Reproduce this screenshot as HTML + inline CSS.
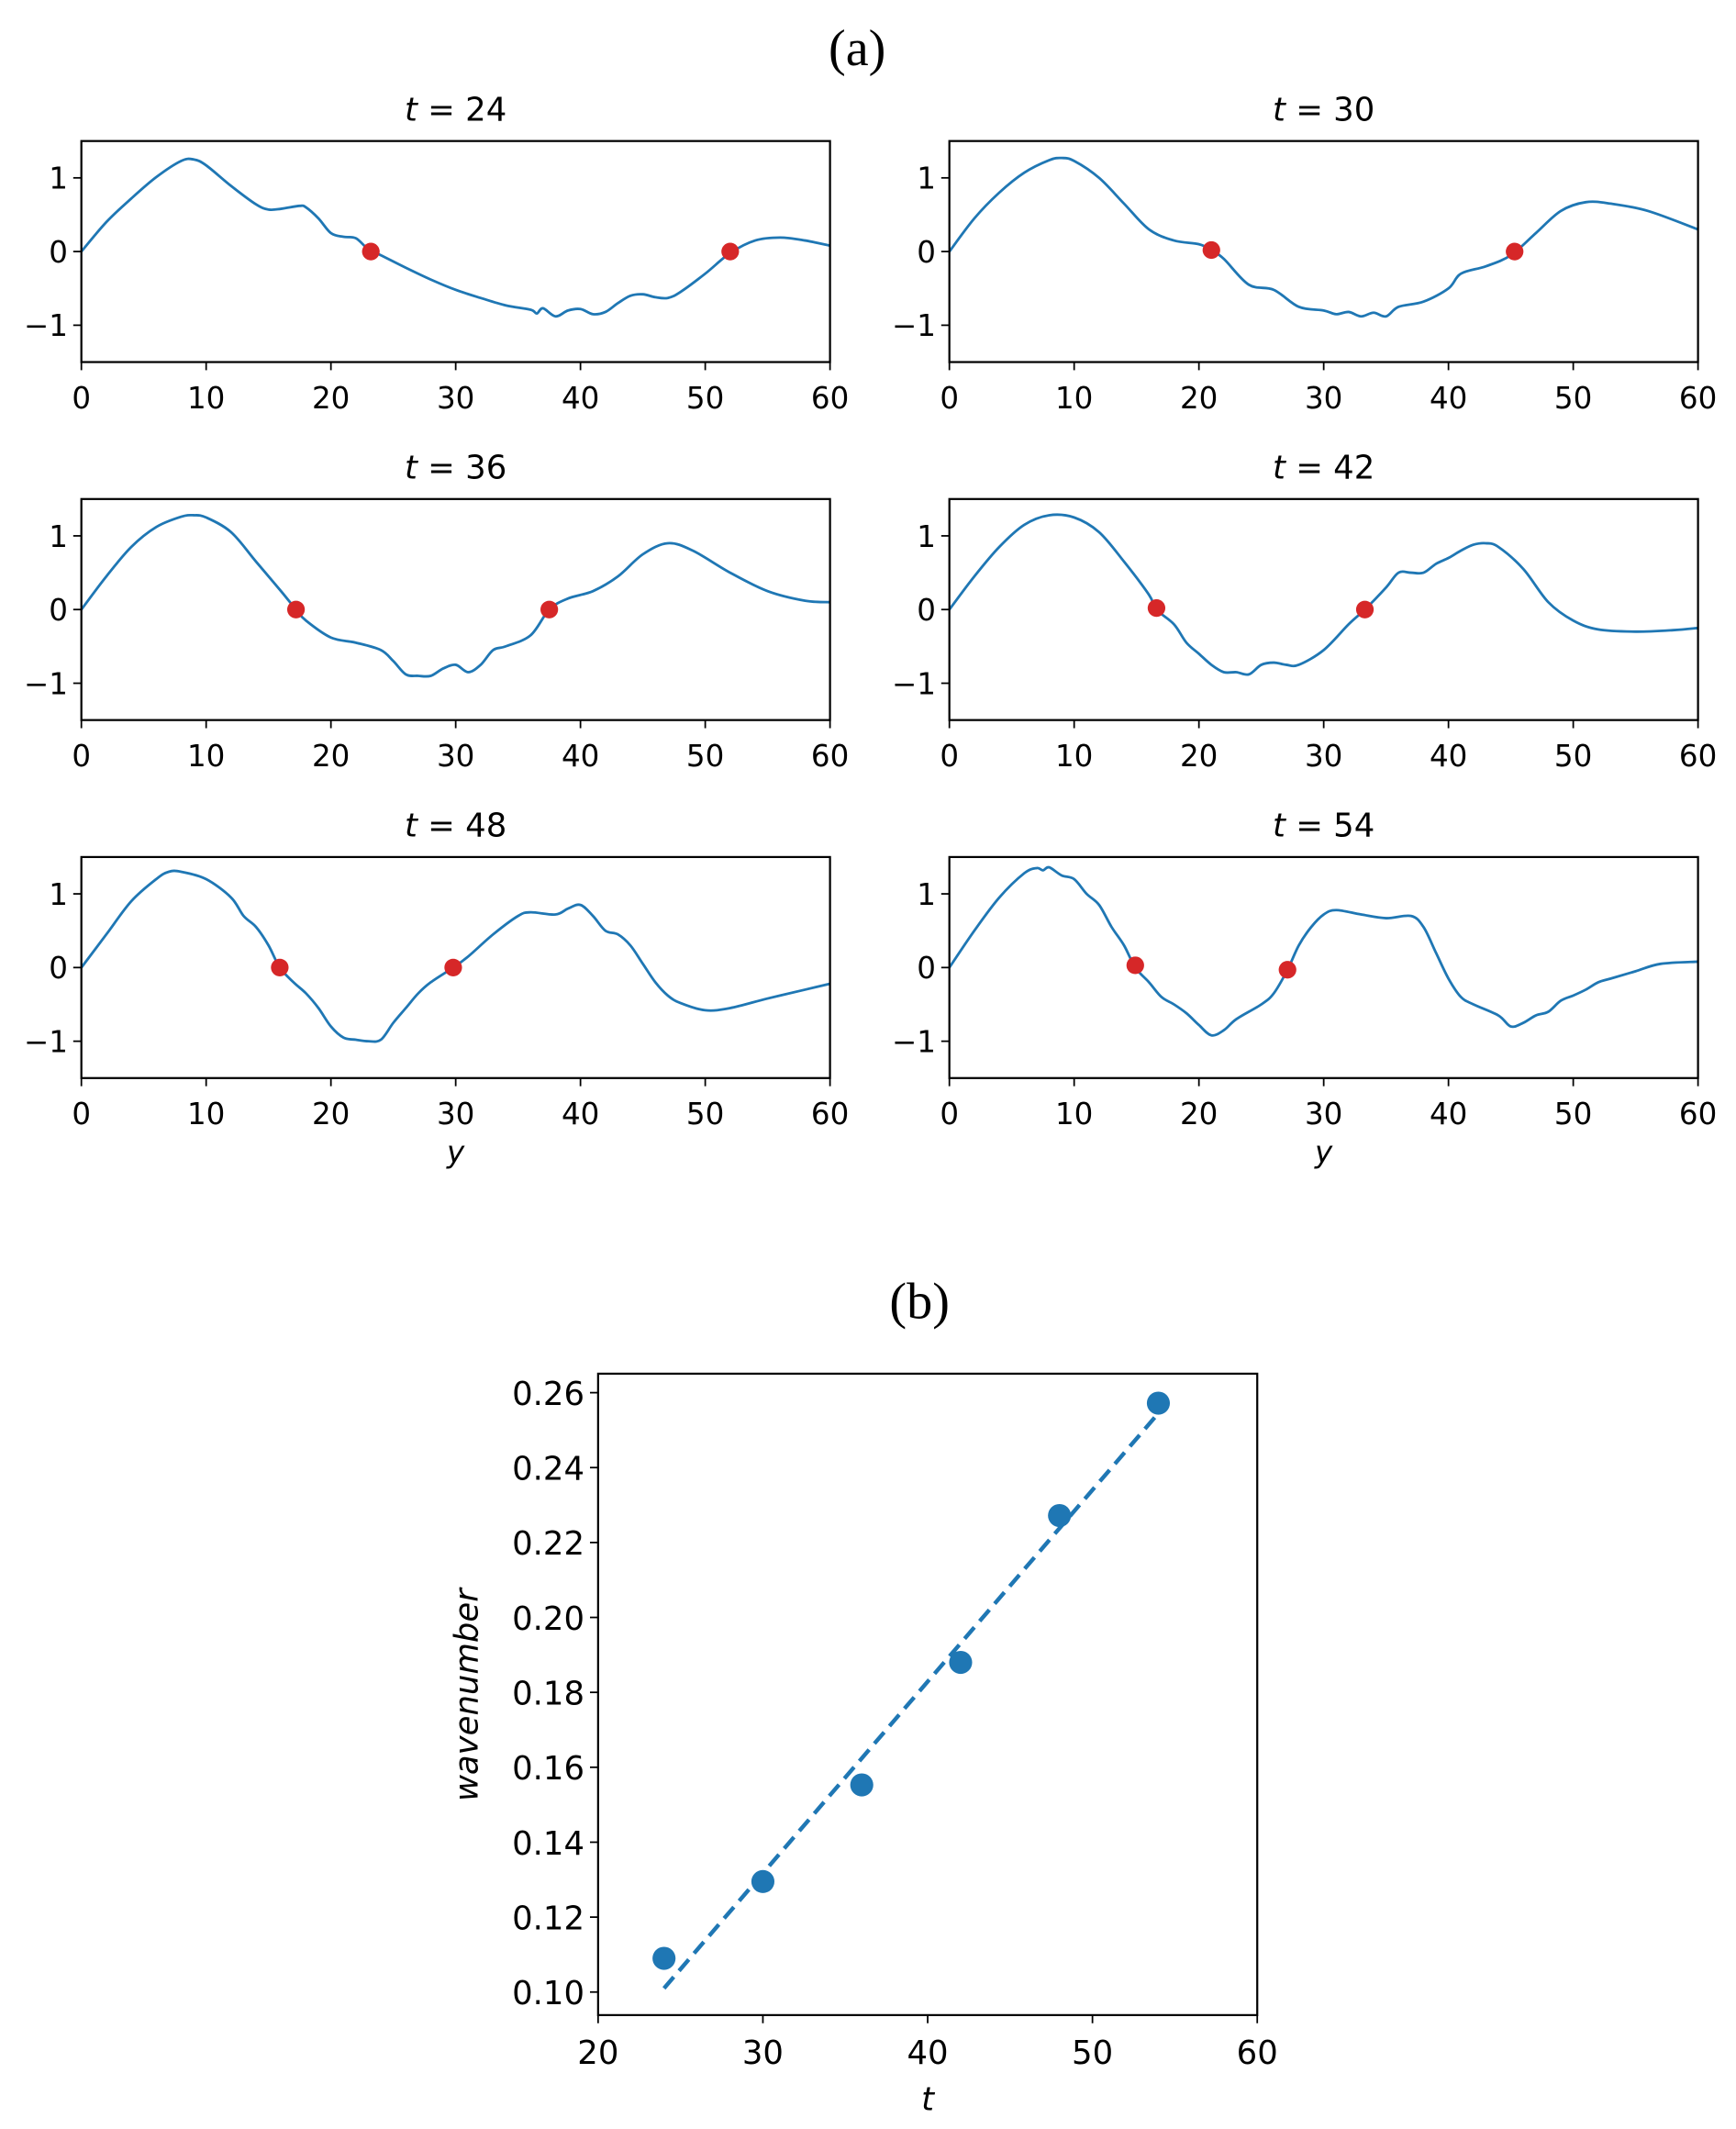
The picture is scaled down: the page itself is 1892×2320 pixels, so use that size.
<!DOCTYPE html>
<html><head><meta charset="utf-8"><style>
html,body{margin:0;padding:0;background:#fff;}
svg{display:block;}
text{font-family:"DejaVu Sans","Liberation Sans",sans-serif;fill:#000;}
.serif{font-family:"Liberation Serif","DejaVu Serif",serif;}
</style></head><body>
<svg id="fig" width="1892" height="2320" viewBox="0 0 1280 1570" preserveAspectRatio="none" xmlns="http://www.w3.org/2000/svg">
<text class="serif" x="632" y="48" font-size="38" text-anchor="middle">(a)</text>
<text class="serif" x="678" y="972" font-size="38" text-anchor="middle">(b)</text>
</svg>
<script>
const titles=["24","30","36","42","48","54"];
const x24=[0,2,4,6,8,9,10,12,14,15,16,17.5,18,19,20,21,22,23,24,26,28,30,32,34,36,36.5,37,38,39,40,41,42,43,44,45,46,47,48,50,52,54,56,58,60];
const y24=[0,0.4,0.72,1.01,1.23,1.25,1.17,0.89,0.64,0.57,0.58,0.62,0.6,0.45,0.25,0.2,0.18,0.03,-0.05,-0.22,-0.38,-0.52,-0.63,-0.73,-0.79,-0.84,-0.77,-0.88,-0.8,-0.78,-0.85,-0.82,-0.7,-0.6,-0.58,-0.62,-0.63,-0.55,-0.3,-0.02,0.15,0.19,0.15,0.08];
const x30=[0,2,4,6,8,9,10,12,14,16,18,20,21,22,24,26,28,30,31,32,33,34,35,36,38,40,41,43,45,47,49,51,53,56,60];
const y30=[0,0.45,0.8,1.07,1.24,1.27,1.23,1.0,0.65,0.3,0.15,0.1,0.02,-0.1,-0.45,-0.52,-0.75,-0.8,-0.85,-0.82,-0.88,-0.83,-0.88,-0.75,-0.68,-0.5,-0.3,-0.2,-0.05,0.25,0.55,0.67,0.65,0.55,0.3];
const x36=[0,2,4,6,8,9,10,12,14,16,17.2,18,20,22,24,25,26,27,28,29,30,31,32,33,34,36,37.5,39,41,43,45,47,49,52,55,58,60];
const y36=[0,0.45,0.85,1.12,1.26,1.28,1.25,1.05,0.65,0.25,0,-0.15,-0.38,-0.45,-0.55,-0.7,-0.88,-0.9,-0.9,-0.8,-0.75,-0.85,-0.75,-0.55,-0.5,-0.35,0,0.15,0.25,0.45,0.75,0.9,0.8,0.5,0.25,0.12,0.1];
const x42=[0,2,4,6,8,10,12,14,16,16.6,18,19,20,21,22,23,24,25,26,27,28,30,32,33.3,35,36,37,38,39,40,41,42,43,44,46,48,50,52,55,58,60];
const y42=[0,0.45,0.85,1.15,1.28,1.25,1.05,0.65,0.2,0,-0.2,-0.45,-0.6,-0.75,-0.85,-0.85,-0.88,-0.75,-0.72,-0.75,-0.75,-0.55,-0.2,0,0.3,0.5,0.5,0.5,0.62,0.7,0.8,0.88,0.9,0.85,0.55,0.1,-0.15,-0.27,-0.3,-0.28,-0.25];
const x48=[0,2,4,6,7,8,10,12,13,14,15,15.9,17,18,19,20,21,22,23,24,25,26,27,28,29.8,31,33,35,36,38,39,40,41,42,43,44,45,46,47,48,50,52,55,58,60];
const y48=[0,0.45,0.9,1.2,1.3,1.3,1.2,0.95,0.7,0.55,0.3,0,-0.2,-0.35,-0.55,-0.8,-0.95,-0.98,-1.0,-0.98,-0.75,-0.55,-0.35,-0.2,0,0.15,0.45,0.7,0.75,0.72,0.8,0.85,0.7,0.5,0.45,0.3,0.05,-0.2,-0.38,-0.48,-0.58,-0.55,-0.42,-0.3,-0.22];
const x54=[0,2,4,6,7,7.5,8,9,10,11,12,13,14,14.9,16,17,18,19,20,21,22,23,25,26,27.1,28,29,30,31,33,35,37,38,39,40,41,42,44,45,46,47,48,49,50,51,52,53,55,57,60];
const y54=[0,0.5,0.95,1.28,1.35,1.32,1.36,1.25,1.2,1.0,0.85,0.55,0.3,0,-0.2,-0.4,-0.5,-0.62,-0.78,-0.92,-0.85,-0.7,-0.5,-0.35,-0.03,0.3,0.55,0.72,0.78,0.72,0.67,0.7,0.55,0.2,-0.15,-0.4,-0.5,-0.65,-0.8,-0.75,-0.65,-0.6,-0.45,-0.38,-0.3,-0.2,-0.15,-0.05,0.05,0.08];
const zeroA=[23.2,21.0,17.2,16.6,15.9,14.9];
const zeroB=[52.0,45.3,37.5,33.3,29.8,27.1];
const zeroAy=[0,0.02,0,0.02,0,0.03];
const zeroBy=[0,0,0,0,0,-0.03];
const xTicks=[0,10,20,30,40,50,60];
const yTicks=[1,0,-1];
const yTickLabels=["1","0","\u22121"];
// panel b
const tVals=[24,30,36,42,48,54];
const kVals=[0.109,0.1295,0.1553,0.188,0.2272,0.2572];
const fitT=[24,54];
const fitK=[0.101,0.2545];
const bXTicks=[20,30,40,50,60];
const bYTicks=[0.10,0.12,0.14,0.16,0.18,0.20,0.22,0.24,0.26];

const NS="http://www.w3.org/2000/svg";
const svg=document.getElementById('fig');
function mk(tag,attrs,parent){const e=document.createElementNS(NS,tag);for(const k in attrs)e.setAttribute(k,attrs[k]);(parent||svg).appendChild(e);return e;}
function smooth(pts){let d="M"+pts[0][0]+","+pts[0][1];for(let i=0;i<pts.length-1;i++){const p0=pts[i-1]||pts[i],p1=pts[i],p2=pts[i+1],p3=pts[i+2]||p2;const c1=[p1[0]+(p2[0]-p0[0])/6,p1[1]+(p2[1]-p0[1])/6];const c2=[p2[0]-(p3[0]-p1[0])/6,p2[1]-(p3[1]-p1[1])/6];d+="C"+c1[0].toFixed(2)+","+c1[1].toFixed(2)+" "+c2[0].toFixed(2)+","+c2[1].toFixed(2)+" "+p2[0].toFixed(2)+","+p2[1].toFixed(2);}return d;}
const XS=[x24,x30,x36,x42,x48,x54],YS=[y24,y30,y36,y42,y48,y54];
const lefts=[60,700],tops=[104,368,632];const W=552,H=163;
for(let p=0;p<6;p++){
  const L=lefts[p%2],T=tops[Math.floor(p/2)];
  const g=mk('g',{});
  
  
  const sx=v=>L+v/60*W, sy=v=>T+(1.5-v)/3*H;
  const t=mk('text',{x:L+W/2,y:T-15,'font-size':24,'text-anchor':'middle'},g);
  
  
  t.innerHTML='<tspan font-style="italic">t</tspan> = '+titles[p];
  xTicks.forEach(v=>{mk('line',{x1:sx(v),x2:sx(v),y1:T+H,y2:T+H+6,stroke:'#000','stroke-width':1.2},g);
    const tx=mk('text',{x:sx(v),y:T+H+34,'font-size':22,'text-anchor':'middle'},g);tx.textContent=v;
    
    });
  yTicks.forEach((v,i)=>{mk('line',{x1:L-6,x2:L,y1:sy(v),y2:sy(v),stroke:'#000','stroke-width':1.2},g);
    const ty=mk('text',{x:L-10,y:sy(v)+8,'font-size':22,'text-anchor':'end'},g);ty.textContent=yTickLabels[i];
    
    });
  const pts=XS[p].map((x,i)=>[sx(x),sy(YS[p][i])]);
  const path=mk('path',{d:smooth(pts),fill:'none',stroke:'#1f77b4','stroke-width':1.9},g);
  
  
  [[zeroA[p],zeroAy[p]],[zeroB[p],zeroBy[p]]].forEach(z=>{const c=mk('circle',{cx:sx(z[0]),cy:sy(z[1]),r:6.5,fill:'#d62728'},g);
    
    });
  mk('rect',{x:L,y:T,width:W,height:H,fill:'none',stroke:'#000','stroke-width':1.5},g);
  if(p>=4){const xl=mk('text',{x:L+W/2,y:T+H+62,'font-size':22,'text-anchor':'middle','font-style':'italic'},g);xl.textContent='y';
    
    }
}
// panel b
{
  const L=441,R=927,T=1013,B=1486;
  const g=mk('g',{});
  
  
  const sx=v=>L+(v-20)/40*(R-L);
  const y0=1469,y1=1027; const sy=v=>y0+(v-0.10)/(0.16)*(y1-y0);
  bXTicks.forEach(v=>{mk('line',{x1:sx(v),x2:sx(v),y1:B,y2:B+6,stroke:'#000','stroke-width':1.2},g);
    const tx=mk('text',{x:sx(v),y:B+36,'font-size':24,'text-anchor':'middle'},g);tx.textContent=v;
    
    });
  bYTicks.forEach(v=>{mk('line',{x1:L-6,x2:L,y1:sy(v),y2:sy(v),stroke:'#000','stroke-width':1.2},g);
    const ty=mk('text',{x:L-10,y:sy(v)+9,'font-size':24,'text-anchor':'end'},g);ty.textContent=v.toFixed(2);
    
    });
  const fl=mk('line',{x1:sx(fitT[0]),y1:sy(fitK[0]),x2:sx(fitT[1]),y2:sy(fitK[1]),stroke:'#1f77b4','stroke-width':3,'stroke-dasharray':'11,6'},g);
  
  
  tVals.forEach((t,i)=>{const c=mk('circle',{cx:sx(t),cy:sy(kVals[i]),r:8.5,fill:'#1f77b4'},g);
    
    });
  mk('rect',{x:L,y:T,width:R-L,height:B-T,fill:'none',stroke:'#000','stroke-width':1.5},g);
  const xl=mk('text',{x:(L+R)/2,y:1556,'font-size':24,'text-anchor':'middle','font-style':'italic'},g);xl.textContent='t';
  
  
  const yl=mk('text',{x:0,y:0,'font-size':24,'text-anchor':'middle','font-style':'italic',transform:'translate(352,1250) rotate(-90)'},g);yl.textContent='wavenumber';
  
  
}
</script>
</body></html>
